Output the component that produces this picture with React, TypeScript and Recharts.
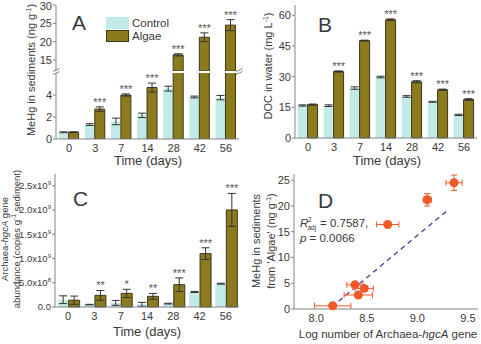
import {
  Bar,
  BarChart,
  ErrorBar,
  LabelList,
  Legend,
  ReferenceLine,
  Scatter,
  ScatterChart,
  XAxis,
  YAxis,
} from "recharts";

// sampling days
const DAYS = ["0", "3", "7", "14", "28", "42", "56"];

// A: MeHg in sediments (ng g-1)
const MEHG_CONTROL = [0.61, 1.31, 1.6, 2.15, 4.58, 3.82, 3.76];
const MEHG_CONTROL_ERR = [0.04, 0.08, 0.3, 0.2, 0.22, 0.08, 0.2];
const MEHG_ALGAE = [0.62, 2.72, 4.0, 4.68, 16.4, 21.2, 24.5];
const MEHG_ALGAE_ERR = [0.04, 0.2, 0.1, 0.4, 0.3, 1.2, 1.5];
const MEHG_SIG = ["", "***", "***", "***", "***", "***", "***"];

// B: DOC in water (mg L-1)
const DOC_CONTROL = [15.9, 15.8, 24.4, 29.8, 20.3, 17.7, 11.3];
const DOC_CONTROL_ERR = [0.3, 0.4, 0.6, 0.4, 0.4, 0.2, 0.3];
const DOC_ALGAE = [16.3, 32.5, 47.6, 57.8, 27.5, 23.6, 18.8];
const DOC_ALGAE_ERR = [0.3, 0.3, 0.2, 0.4, 0.5, 0.3, 0.4];
const DOC_SIG = ["", "***", "***", "***", "***", "***", "***"];

// C: Archaea-hgcA gene abundance (copies g-1 sediment)
const HGCA_CONTROL = [1.5e8, 0.5e8, 0.85e8, 0.55e8, 0.7e8, 3.1e8, 4.8e8];
const HGCA_CONTROL_ERR = [0.8e8, 0.05e8, 0.5e8, 0.4e8, 0.08e8, 0.1e8, 0.1e8];
const HGCA_ALGAE = [1.4e8, 2.4e8, 2.8e8, 2.2e8, 4.6e8, 1.1e9, 2.0e9];
const HGCA_ALGAE_ERR = [0.85e8, 1.0e8, 0.85e8, 0.6e8, 1.4e8, 1.2e8, 3.4e8];
const HGCA_SIG = ["", "**", "*", "**", "***", "***", "***"];
const HGCA_TICKS = [0, 5e8, 1e9, 1.5e9, 2e9, 2.5e9];

// D: MeHg (algae) vs log hgcA
const LOG_HGCA = [8.163, 8.416, 8.475, 8.383, 8.707, 9.098, 9.363];
const LOG_HGCA_ERR = [0.18, 0.14, 0.09, 0.08, 0.11, 0.04, 0.08];
const FIT_LINE = [
  { x: 8.153, y: 0.4 },
  { x: 9.313, y: 19.4 },
];

const A_LOW_MAX = 6;
const A_HIGH_MIN = 12;

const FONT = "'Liberation Sans', Arial, sans-serif";
const TEXT = "#3a3a3a";
const AXIS = "#858585";
const CONTROL_FILL = "#c2ebe8";
const ALGAE_FILL = "#8b7b1c";
const ALGAE_STROKE = "#3b371c";
const ERR = "#333";
const DOT = "#f05a28";
const FIT = "#3d3d9e";
const LEGEND_ORDER = ["Control", "Algae"];

type Row = {
  day: string;
  i: number;
  control: number | null;
  controlErr: number | null;
  algae: number | null;
  algaeErr: number | null;
};

function buildRows(
  control: number[],
  controlErr: number[],
  algae: number[],
  algaeErr: number[],
  keep: (v: number) => boolean = () => true
): Row[] {
  return DAYS.map((day, i) => ({
    day,
    i,
    control: keep(control[i]) ? control[i] : null,
    controlErr: keep(control[i]) ? controlErr[i] : null,
    algae: keep(algae[i]) ? algae[i] : null,
    algaeErr: keep(algae[i]) ? algaeErr[i] : null,
  }));
}

// asterisks sit just above the algae error bar
function sigLabel(
  sig: string[],
  values: number[],
  errs: number[],
  base: number,
  show: (v: number) => boolean
) {
  return (props: any) => {
    const i = Number(props.value);
    const v = values[i];
    if (!sig[i] || !show(v)) return null;
    const box = props.viewBox ?? props;
    const { x, y, width, height } = box;
    const ppu = Math.abs(height) / (v - base);
    const top = Math.min(y, y + height) - errs[i] * ppu;
    return (
      <text
        key={`sig-${i}`}
        x={x + width / 2}
        y={top - 1}
        textAnchor="middle"
        fontSize={11}
        fill="#555"
      >
        {sig[i]}
      </text>
    );
  };
}

function groupBars(
  sig: string[],
  values: number[],
  errs: number[],
  base: number,
  show: (v: number) => boolean
) {
  return [
    <Bar key="control" dataKey="control" name="Control" fill={CONTROL_FILL} isAnimationActive={false}>
      <ErrorBar dataKey="controlErr" width={4} stroke={ERR} strokeWidth={1} />
    </Bar>,
    <Bar
      key="algae"
      dataKey="algae"
      name="Algae"
      fill={ALGAE_FILL}
      stroke={ALGAE_STROKE}
      strokeWidth={1}
      isAnimationActive={false}
    >
      <ErrorBar dataKey="algaeErr" width={4} stroke={ERR} strokeWidth={1} />
      <LabelList dataKey="i" content={sigLabel(sig, values, errs, base, show)} />
    </Bar>,
  ];
}

const tickStyle = { fontSize: 11, fill: TEXT };

function frameAxes() {
  return [
    <XAxis key="top" xAxisId="top" orientation="top" dataKey="day" tick={false} tickLine={false} height={0} stroke={AXIS} />,
    <YAxis key="right" yAxisId="right" orientation="right" type="number" domain={[0, 1]} tick={false} tickLine={false} width={0} stroke={AXIS} />,
  ];
}

// "2.5x10^9" style tick with a real superscript
function SciTick({ x, y, payload }: any) {
  const v = Number(payload?.value ?? 0);
  if (v === 0) {
    return (
      <text x={x} y={y} dy="0.355em" textAnchor="end" fontSize={9.5} fill={TEXT}>
        0.0
      </text>
    );
  }
  const e = Math.floor(Math.log10(v) + 1e-9);
  const mant = (v / 10 ** e).toFixed(1);
  return (
    <text x={x} y={y} dy="0.355em" textAnchor="end" fontSize={9.5} fill={TEXT}>
      {mant}x10
      <tspan dy={-4} fontSize={6}>
        {e}
      </tspan>
    </text>
  );
}

function LegendBox({ payload }: any) {
  const items = [...(payload ?? [])].sort(
    (a: any, b: any) => LEGEND_ORDER.indexOf(a.value) - LEGEND_ORDER.indexOf(b.value)
  );
  return (
    <div style={{ fontFamily: FONT }}>
      {items.map((entry: any) => (
        <div key={entry.value} style={{ display: "flex", alignItems: "center", height: 13 }}>
          <span
            style={{
              width: 23,
              height: 12,
              boxSizing: "border-box",
              background: entry.value === "Algae" ? ALGAE_FILL : CONTROL_FILL,
              border: entry.value === "Algae" ? `1px solid ${ALGAE_STROKE}` : "none",
            }}
          />
          <span style={{ marginLeft: 3, fontSize: 11.5, color: TEXT }}>{entry.value}</span>
        </div>
      ))}
    </div>
  );
}

const barLayout = { barCategoryGap: "10%", barGap: 0 };

export default function App() {
  const aHigh = buildRows(MEHG_CONTROL, MEHG_CONTROL_ERR, MEHG_ALGAE, MEHG_ALGAE_ERR, (v) => v > A_HIGH_MIN);
  const aLow = buildRows(MEHG_CONTROL, MEHG_CONTROL_ERR, MEHG_ALGAE, MEHG_ALGAE_ERR);
  const bRows = buildRows(DOC_CONTROL, DOC_CONTROL_ERR, DOC_ALGAE, DOC_ALGAE_ERR);
  const cRows = buildRows(HGCA_CONTROL, HGCA_CONTROL_ERR, HGCA_ALGAE, HGCA_ALGAE_ERR);
  const dPoints = LOG_HGCA.map((x, i) => ({
    x,
    y: MEHG_ALGAE[i],
    ex: LOG_HGCA_ERR[i],
    ey: MEHG_ALGAE_ERR[i],
  }));

  return (
    <div
      style={{
        position: "absolute",
        left: 0,
        top: 0,
        width: 481,
        height: 344,
        overflow: "hidden",
        background: "#fff",
        fontFamily: FONT,
      }}
    >
      {/* A, upper segment of the broken axis */}
      <div style={{ position: "absolute", left: 0, top: 0 }}>
        <BarChart width={245} height={72} data={aHigh} margin={{ top: 5, right: 6, bottom: 1, left: 0 }} {...barLayout}>
          <XAxis dataKey="day" hide />
          <YAxis
            width={56}
            type="number"
            domain={[A_HIGH_MIN, 30]}
            ticks={[15, 20, 25, 30]}
            allowDataOverflow
            tickSize={3}
            tickMargin={1}
            stroke={AXIS}
            tick={tickStyle}
          />
          {frameAxes()}
          {groupBars(MEHG_SIG, MEHG_ALGAE, MEHG_ALGAE_ERR, A_HIGH_MIN, (v) => v > A_HIGH_MIN)}
          <Legend
            layout="vertical"
            align="center"
            verticalAlign="middle"
            wrapperStyle={{ left: 106, top: 16, width: "auto" }}
            content={LegendBox}
          />
        </BarChart>
      </div>

      {/* A, lower segment */}
      <div style={{ position: "absolute", left: 0, top: 72 }}>
        <BarChart width={245} height={108} data={aLow} margin={{ top: 1, right: 6, bottom: 21, left: 0 }} {...barLayout}>
          <XAxis dataKey="day" interval={0} height={20} tickLine={false} tickSize={3} tickMargin={2} stroke={AXIS} tick={tickStyle} />
          <YAxis
            width={56}
            type="number"
            domain={[0, A_LOW_MAX]}
            ticks={[0, 2, 4]}
            allowDataOverflow
            tickSize={3}
            tickMargin={1}
            stroke={AXIS}
            tick={tickStyle}
          />
          <YAxis yAxisId="right" orientation="right" type="number" domain={[0, 1]} tick={false} tickLine={false} width={0} stroke={AXIS} />
          {groupBars(MEHG_SIG, MEHG_ALGAE, MEHG_ALGAE_ERR, 0, (v) => v <= A_LOW_MAX)}
        </BarChart>
      </div>

      {/* B */}
      <div style={{ position: "absolute", left: 240, top: 0 }}>
        <BarChart width={241} height={170} data={bRows} margin={{ top: 5, right: 4, bottom: 12, left: 0 }} {...barLayout}>
          <XAxis dataKey="day" interval={0} height={20} tickLine={false} tickSize={3} tickMargin={2} stroke={AXIS} tick={tickStyle} />
          <YAxis
            width={55}
            type="number"
            domain={[0, 65]}
            ticks={[0, 15, 30, 45, 60]}
            tickSize={3}
            tickMargin={1}
            stroke={AXIS}
            tick={tickStyle}
          />
          {frameAxes()}
          {groupBars(DOC_SIG, DOC_ALGAE, DOC_ALGAE_ERR, 0, () => true)}
        </BarChart>
      </div>

      {/* C */}
      <div style={{ position: "absolute", left: 0, top: 170 }}>
        <BarChart width={245} height={174} data={cRows} margin={{ top: 4, right: 6, bottom: 17, left: 0 }} {...barLayout}>
          <XAxis dataKey="day" interval={0} height={20} tickLine={false} tickSize={3} tickMargin={2} stroke={AXIS} tick={tickStyle} />
          <YAxis
            width={55}
            type="number"
            domain={[0, 2.74e9]}
            ticks={HGCA_TICKS}
            tickSize={3}
            tickMargin={1}
            stroke={AXIS}
            tick={<SciTick />}
          />
          {frameAxes()}
          {groupBars(HGCA_SIG, HGCA_ALGAE, HGCA_ALGAE_ERR, 0, () => true)}
        </BarChart>
      </div>

      {/* D */}
      <div style={{ position: "absolute", left: 240, top: 170 }}>
        <ScatterChart width={241} height={174} margin={{ top: 4, right: 3, bottom: 15, left: 0 }}>
          <XAxis
            dataKey="x"
            type="number"
            domain={[7.78, 9.6]}
            ticks={[8, 8.5, 9, 9.5]}
            tickFormatter={(v) => Number(v).toFixed(1)}
            height={20}
            tickSize={3}
            tickMargin={2}
            tickLine={false}
            stroke={AXIS}
            tick={tickStyle}
          />
          <YAxis
            dataKey="y"
            type="number"
            width={54}
            domain={[0, 26.2]}
            ticks={[0, 5, 10, 15, 20, 25]}
            tickSize={3}
            tickMargin={1}
            stroke={AXIS}
            tick={tickStyle}
          />
          <XAxis xAxisId="top" orientation="top" type="number" domain={[7.78, 9.6]} tick={false} tickLine={false} height={0} stroke={AXIS} />
          <YAxis yAxisId="right" orientation="right" type="number" domain={[0, 1]} tick={false} tickLine={false} width={0} stroke={AXIS} />
          <ReferenceLine segment={FIT_LINE} stroke={FIT} strokeWidth={1.3} strokeDasharray="5 4" />
          <Scatter data={dPoints} fill={DOT} isAnimationActive={false}>
            <ErrorBar dataKey="ex" direction="x" width={3} stroke={DOT} strokeWidth={1} />
            <ErrorBar dataKey="ey" direction="y" width={3} stroke={DOT} strokeWidth={1} />
          </Scatter>
        </ScatterChart>
      </div>

      {/* titles, panel letters and axis break marks */}
      <svg
        width={481}
        height={344}
        style={{ position: "absolute", left: 0, top: 0, pointerEvents: "none", fontFamily: FONT }}
      >
        <g fill={TEXT}>
          <text x={72} y={29.5} fontSize={21}>A</text>
          <text x={318} y={31.5} fontSize={21}>B</text>
          <text x={73} y={206} fontSize={21}>C</text>
          <text x={318} y={208} fontSize={21}>D</text>

          <text x={148} y={165} fontSize={13} textAnchor="middle">Time (days)</text>
          <text x={387} y={165} fontSize={13} textAnchor="middle">Time (days)</text>
          <text x={147} y={335.5} fontSize={13} textAnchor="middle">Time (days)</text>
          <text x={388} y={338} fontSize={11.5} textAnchor="middle">
            Log number of Archaea-<tspan fontStyle="italic">hgcA</tspan> gene
          </text>

          <text transform="translate(35,70) rotate(-90)" fontSize={11} textAnchor="middle">
            MeHg in sediments (ng g<tspan fontSize={7} dy={-4}>-1</tspan>
            <tspan dy={4}>)</tspan>
          </text>
          <text transform="translate(272,66) rotate(-90)" fontSize={11} textAnchor="middle">
            DOC in water (mg L<tspan fontSize={7} dy={-4}>-1</tspan>
            <tspan dy={4}>)</tspan>
          </text>
          <text transform="translate(8,239) rotate(-90)" fontSize={9.5} textAnchor="middle">
            Archaea-<tspan fontStyle="italic">hgcA</tspan> gene
          </text>
          <text transform="translate(19.5,239) rotate(-90)" fontSize={9.5} textAnchor="middle">
            abundance (copies g<tspan fontSize={6.5} dy={-3.5}>-1</tspan>
            <tspan dy={3.5}> sediment)</tspan>
          </text>
          <text transform="translate(260,241) rotate(-90)" fontSize={11} textAnchor="middle">
            MeHg in sediments
          </text>
          <text transform="translate(275,241) rotate(-90)" fontSize={11} textAnchor="middle">
            from 'Algae' (ng g<tspan fontSize={7} dy={-4}>-1</tspan>
            <tspan dy={4}>)</tspan>
          </text>

          <text x={300} y={226.5} fontSize={11.5}>
            <tspan fontStyle="italic">R</tspan>
          </text>
          <text x={308} y={221.5} fontSize={6.5}>2</text>
          <text x={307.5} y={229.5} fontSize={6.5}>adj</text>
          <text x={320} y={226.5} fontSize={11.5}>= 0.7587,</text>
          <text x={300} y={241.5} fontSize={11.5}>
            <tspan fontStyle="italic">p</tspan> = 0.0066
          </text>
        </g>

        <g stroke={AXIS} strokeWidth={1}>
          <line x1={53} y1={71.5} x2={59.5} y2={68.5} />
          <line x1={53} y1={74.5} x2={59.5} y2={71.5} />
          <line x1={236} y1={71.5} x2={242.5} y2={68.5} />
          <line x1={236} y1={74.5} x2={242.5} y2={71.5} />
        </g>
      </svg>
    </div>
  );
}
